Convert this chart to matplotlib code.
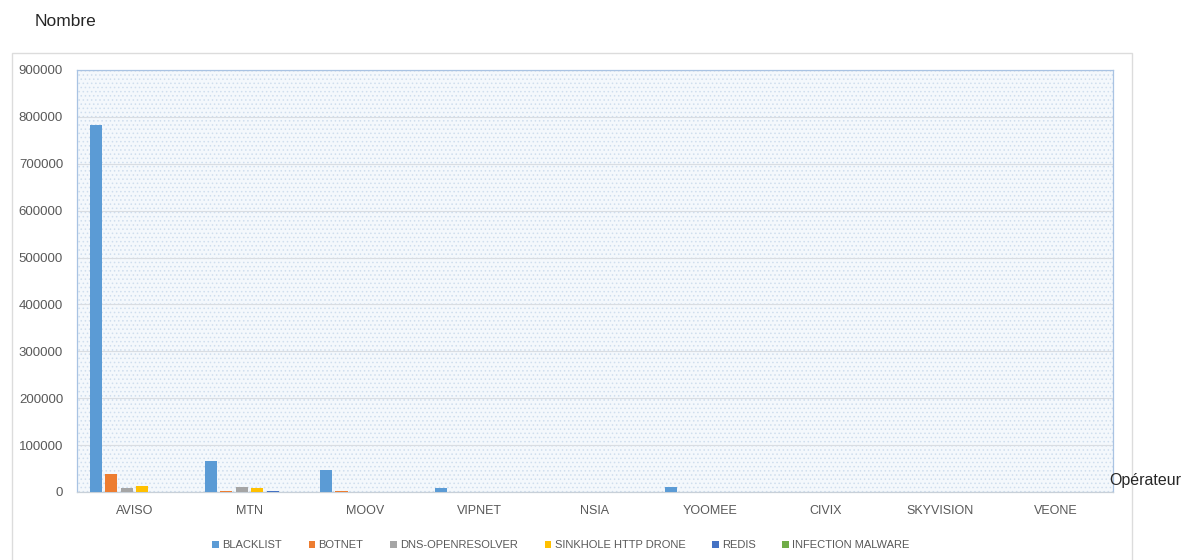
#!/usr/bin/env python

"""
    plot.py:
        - Nombre par opérateur (grouped bars)
"""

import numpy as np
import matplotlib
matplotlib.use("Agg")
import matplotlib.pyplot as plt
import matplotlib.patches as mpatches

plt.rcParams["font.family"] = ["Liberation Sans", "DejaVu Sans"]
plt.rcParams["hatch.linewidth"] = 0.6

################################################################################
# Data
################################################################################
operators = ["AVISO", "MTN", "MOOV", "VIPNET", "NSIA", "YOOMEE", "CIVIX", "SKYVISION", "VEONE"]

blacklist = [782000, 66000, 47000, 8000, 0, 10000, 0, 0, 0]
botnet    = [38000, 3000, 3000, 0, 0, 0, 0, 0, 0]
dns_open  = [8000, 11000, 0, 0, 0, 0, 0, 0, 0]
sinkhole  = [12000, 9000, 0, 0, 0, 0, 0, 0, 0]
redis     = [0, 2500, 0, 0, 0, 0, 0, 0, 0]
infection = [0, 0, 0, 0, 0, 0, 0, 0, 0]

series_names = ["BLACKLIST", "BOTNET", "DNS-OPENRESOLVER", "SINKHOLE HTTP DRONE", "REDIS", "INFECTION MALWARE"]
series_vals  = [blacklist, botnet, dns_open, sinkhole, redis, infection]
colors = ["#5B9BD5", "#ED7D31", "#A5A5A5", "#FFC000", "#4472C4", "#70AD47"]

yticks = np.arange(0, 900001, 100000)

################################################################################
# Figure
################################################################################
fig = plt.figure(figsize=(11.89, 5.6), dpi=100)

# outer chart frame
fig.patches.append(mpatches.Rectangle((12 / 1189, -0.05), 1120 / 1189, 1.05 - 53 / 560,
                                      transform=fig.transFigure, fill=False,
                                      edgecolor="#dcdcdc", linewidth=1.0, zorder=0))

ax = fig.add_axes([77 / 1189, 68 / 560, 1036 / 1189, 422 / 560])
ax.set_facecolor("#f4f8fc")
ax.add_patch(mpatches.Rectangle((0, 0), 1, 1, transform=ax.transAxes, facecolor="none",
                                edgecolor="#cfdeee", hatch="....", linewidth=0, zorder=0))

x = np.arange(len(operators))
pitch = 0.135
width = 0.105
for i, (name, vals, c) in enumerate(zip(series_names, series_vals, colors)):
    ax.bar(x + (i - 2.5) * pitch, vals, width=width, color=c, label=name, zorder=3)

ax.set_xlim(-0.5, len(operators) - 0.5)
ax.set_ylim(0, 900000)
ax.set_yticks(yticks)
ax.set_yticklabels([str(v) for v in yticks])
ax.set_xticks(x)
ax.set_xticklabels(operators)
ax.yaxis.grid(True, color="#d9dde2", linewidth=0.8, zorder=1)
ax.set_axisbelow(True)

ax.tick_params(axis="both", length=0, labelcolor="#595959")
ax.tick_params(axis="x", pad=9, labelsize=9)
ax.tick_params(axis="y", pad=10, labelsize=9.5)

for side in ["top", "right", "left", "bottom"]:
    ax.spines[side].set_color("#a9c3e3")
    ax.spines[side].set_linewidth(0.9)
ax.spines["bottom"].set_color("#c8d0d8")

fig.text(35 / 1189, 1 - 22 / 560, "Nombre", fontsize=12.5, color="#262626", va="center", ha="left")
fig.text(1109 / 1189, 1 - 481 / 560, "Opérateur", fontsize=11.5, color="#262626", va="center", ha="left")

################################################################################
# Legend
################################################################################
handles = [mpatches.Patch(facecolor=c, edgecolor="none", label=n) for n, c in zip(series_names, colors)]
leg = fig.legend(handles=handles, loc="center", bbox_to_anchor=(561 / 1189, 1 - 545 / 560),
                 ncol=6, frameon=False, fontsize=8, handlelength=0.6, handleheight=0.6,
                 handletextpad=0.3, columnspacing=2.4)
for t in leg.get_texts():
    t.set_color("#595959")

plt.savefig("out.png", dpi=100)
plt.close()
